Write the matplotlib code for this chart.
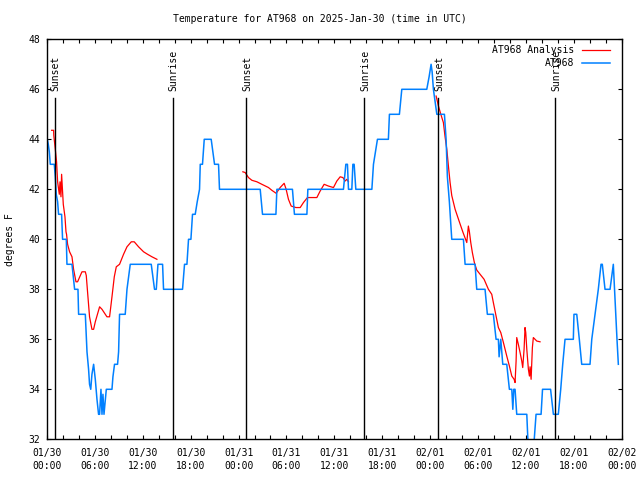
import matplotlib
matplotlib.use("Agg")
import matplotlib.pyplot as plt
from matplotlib.ticker import MultipleLocator

# hours since 01/30 00:00 UTC, temperature in degrees F
obs_hours = [0.04, 0.16, 0.29, 0.41, 0.91, 1.04, 1.16, 1.33, 1.45, 1.83, 1.95, 2.42, 2.50, 3.13,
             3.46, 3.88, 3.96, 4.80, 5.01, 5.21, 5.33, 5.48, 5.63, 5.84, 6.05, 6.26, 6.46, 6.59,
             6.76, 6.89, 7.01, 7.14, 7.43, 8.14, 8.26, 8.46, 8.84, 8.97, 9.09, 9.80, 10.02, 10.22,
             10.43, 13.06, 13.47, 13.69, 13.90, 14.48, 14.60, 16.98, 17.23, 17.53, 17.73, 18.03,
             18.23, 18.57, 18.82, 19.11, 19.20, 19.48, 19.70, 20.57, 20.99, 21.49, 21.61, 26.71,
             27.00, 28.68, 28.80, 30.75, 31.00, 32.56, 32.68, 37.14, 37.44, 37.64, 37.77, 38.19,
             38.32, 38.48, 38.69, 40.70, 40.90, 41.40, 42.77, 42.90, 44.15, 44.45, 47.58, 47.87,
             48.12, 48.25, 48.41, 48.84, 49.79, 50.00, 50.16, 50.41, 50.71, 52.17, 52.38, 53.63,
             53.84, 54.88, 55.17, 55.92, 56.26, 56.55, 56.64, 56.85, 57.10, 57.60, 57.93, 58.23,
             58.36, 58.48, 58.64, 58.85, 60.11, 60.31, 60.93, 61.27, 61.90, 62.08, 63.09, 63.44,
             64.06, 64.36, 64.61, 64.90, 65.94, 66.02, 66.37, 66.69, 66.99, 68.03, 68.25, 68.66,
             69.07, 69.41, 69.57, 69.91, 70.54, 70.95, 71.25, 71.41, 71.58]
obs_temps = [44.0, 43.8, 43.5, 43.0, 43.0, 42.5, 41.8, 41.5, 41.0, 41.0, 40.0, 40.0, 39.0, 39.0,
             38.0, 38.0, 37.0, 37.0, 35.5, 34.8, 34.2, 34.0, 34.6, 35.0, 34.4, 33.6, 33.0, 33.0,
             34.0, 33.0, 33.8, 33.0, 34.0, 34.0, 34.5, 35.0, 35.0, 35.5, 37.0, 37.0, 38.0, 38.5,
             39.0, 39.0, 38.0, 38.0, 39.0, 39.0, 38.0, 38.0, 39.0, 39.0, 40.0, 40.0,
             41.0, 41.0, 41.5, 42.0, 43.0, 43.0, 44.0, 44.0, 43.0, 43.0, 42.0, 42.0,
             41.0, 41.0, 42.0, 42.0, 41.0, 41.0, 42.0, 42.0, 43.0, 43.0, 42.0, 42.0,
             43.0, 43.0, 42.0, 42.0, 43.0, 44.0, 44.0, 45.0, 45.0, 46.0, 46.0, 46.5,
             47.0, 46.7, 46.0, 45.0, 45.0, 44.0, 42.5, 41.5, 40.0, 40.0, 39.0, 39.0,
             38.0, 38.0, 37.0, 37.0, 36.0, 36.0, 35.3, 36.0, 35.0, 35.0, 34.0, 34.0,
             33.2, 34.0, 34.0, 33.0, 33.0, 31.5, 31.5, 33.0, 33.0, 34.0, 34.0, 33.0,
             33.0, 34.0, 35.0, 36.0, 36.0, 37.0, 37.0, 36.0, 35.0, 35.0, 36.0, 37.0,
             38.0, 39.0, 39.0, 38.0, 38.0, 39.0, 37.0, 36.0, 35.0]

# analysis, three separate runs
ana1_hours = [0.58, 0.83, 0.85, 1.04, 1.20, 1.33, 1.54, 1.63, 1.75, 1.83, 2.04, 2.25, 2.38, 2.45,
              2.58, 2.83, 3.13, 3.33, 3.63, 3.83, 4.38, 4.80, 4.92, 5.08, 5.33, 5.63, 5.84, 6.05,
              6.59, 6.89, 7.51, 7.84, 8.14, 8.43, 8.68, 9.09, 9.59, 10.02, 10.56, 10.93, 11.47,
              12.10, 12.60, 13.15, 13.77]
ana1_temps = [44.36, 44.36, 44.16, 43.6, 43.1, 42.3, 41.8, 42.3, 41.7, 42.6, 41.4, 40.9, 40.3, 40.2,
              39.8, 39.5, 39.3, 38.8, 38.3, 38.3, 38.7, 38.7, 38.55, 37.9, 36.9, 36.4, 36.4, 36.7,
              37.3, 37.2, 36.9, 36.9, 37.7, 38.5, 38.9, 39.0, 39.4, 39.7, 39.9, 39.9, 39.7,
              39.5, 39.4, 39.3, 39.2]
ana2_hours = [24.54, 24.83, 25.24, 25.67, 26.30, 26.92, 27.75, 28.17, 28.71, 29.21, 29.71, 29.96,
              30.25, 30.59, 31.18, 31.72, 32.13, 32.63, 33.81, 34.22, 34.72, 35.26, 35.89, 36.31,
              36.73, 37.07, 37.35, 37.56, 37.77]
ana2_temps = [42.7, 42.67, 42.47, 42.36, 42.3, 42.2, 42.07, 41.96, 41.84, 42.07, 42.24, 42.0,
              41.6, 41.33, 41.27, 41.27, 41.47, 41.67, 41.67, 41.93, 42.2, 42.13, 42.07, 42.33,
              42.5, 42.47, 42.33, 42.4, 42.3]
ana3_hours = [48.75, 49.04, 49.34, 49.66, 49.87, 50.09, 50.29, 50.50, 50.71, 51.13, 51.66, 52.09,
              52.59, 52.79, 52.92, 53.09, 53.29, 53.54, 53.84, 54.26, 54.76, 55.30, 55.72, 55.92,
              56.26, 56.55, 56.85, 57.18, 57.60, 57.93, 58.23, 58.52, 58.64, 58.77, 58.85, 59.05,
              59.27, 59.48, 59.60, 59.77, 59.89, 59.98, 60.11, 60.31, 60.44, 60.52, 60.65, 60.81,
              60.93, 61.36, 61.77]
ana3_temps = [45.73, 45.33, 45.0, 44.67, 44.1, 43.6, 42.93, 42.27, 41.75, 41.2, 40.7, 40.3,
              39.87, 40.53, 40.3, 39.87, 39.47, 39.07, 38.77, 38.6, 38.4, 38.0, 37.8, 37.47,
              36.93, 36.47, 36.27, 35.87, 35.33, 34.93, 34.53, 34.4, 34.27, 35.13, 36.07, 35.8,
              35.47, 35.13, 34.87, 35.6, 36.47, 36.27, 35.6, 34.8, 34.53, 34.9, 34.4, 35.67,
              36.07, 35.93, 35.9]

sun_hours = [0.95, 15.75, 24.99, 39.77, 49.04, 63.69]
sun_labels = ["Sunset", "Sunrise", "Sunset", "Sunrise", "Sunset", "Sunrise"]
sun_top = 45.64

tick_hours = [0, 6, 12, 18, 24, 30, 36, 42, 48, 54, 60, 66, 72]
tick_labels = ["01/30\n00:00", "01/30\n06:00", "01/30\n12:00", "01/30\n18:00",
               "01/31\n00:00", "01/31\n06:00", "01/31\n12:00", "01/31\n18:00",
               "02/01\n00:00", "02/01\n06:00", "02/01\n12:00", "02/01\n18:00",
               "02/02\n00:00"]

mono = "DejaVu Sans Mono"
plt.rcParams["font.family"] = mono
plt.rcParams["font.size"] = 7

fig = plt.figure(figsize=(6.4, 4.8), dpi=100)
ax = fig.add_axes([47 / 640, 1 - 439.3 / 480, 574.7 / 640, 400 / 480])

red = "#ff0000"
blue = "#0080ff"
ax.plot(ana1_hours, ana1_temps, color=red, lw=0.9, label="AT968 Analysis")
ax.plot(ana2_hours, ana2_temps, color=red, lw=0.9)
ax.plot(ana3_hours, ana3_temps, color=red, lw=0.9)
ax.plot(obs_hours, obs_temps, color=blue, lw=1.1, label="AT968")

for h, lab in zip(sun_hours, sun_labels):
    ax.plot([h, h], [32, sun_top], color="black", lw=1.0)
    ax.annotate(lab, (h, sun_top), xytext=(1, 7), textcoords="offset pixels",
                rotation=90, ha="center", va="bottom", fontsize=7)

ax.set_xlim(0, 72)
ax.set_ylim(32, 48)
ax.set_xticks(tick_hours)
ax.set_xticklabels(tick_labels)
for lab in ax.get_xticklabels():
    lab.set_linespacing(1.45)
ax.xaxis.set_minor_locator(MultipleLocator(2))
ax.yaxis.set_major_locator(MultipleLocator(2))
ax.tick_params(which="both", direction="in", length=3, width=0.8, top=True, right=True)
ax.tick_params(axis="x", pad=6)
ax.tick_params(axis="y", pad=5)
for s in ax.spines.values():
    s.set_linewidth(1.0)

fig.text(0.5, 1 - 19 / 480, "Temperature for AT968 on 2025-Jan-30 (time in UTC)",
         ha="center", va="center", fontsize=7)
fig.text(10 / 640, 0.5, "degrees F", rotation=90, ha="center", va="center", fontsize=7)

ax.legend(loc="upper right", bbox_to_anchor=(1 - 3 / 574.7, 1 + 3 / 400),
          markerfirst=False, frameon=False, handlelength=2.9,
          handletextpad=0.8, labelspacing=0.35, borderaxespad=0.5, fontsize=7)

fig.savefig("out.png", dpi=100)
